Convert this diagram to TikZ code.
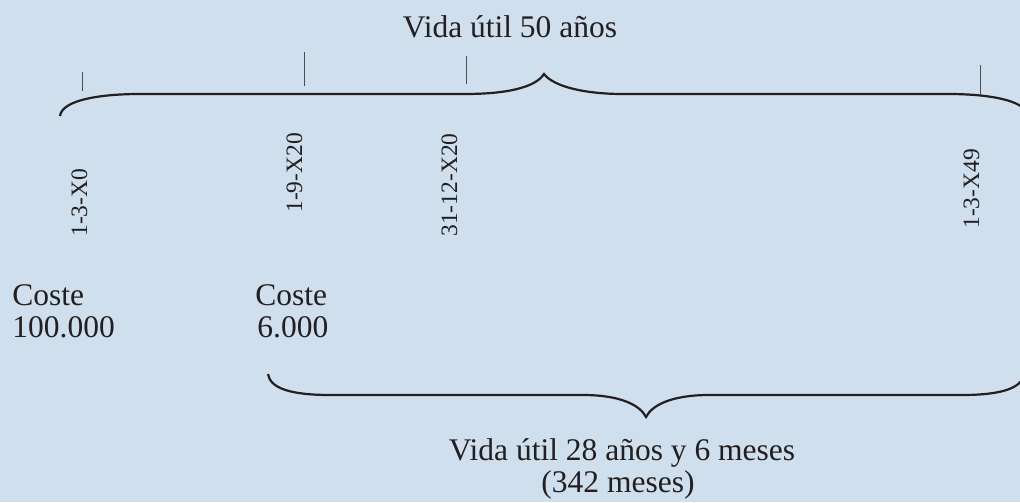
\documentclass[tikz,border=0pt]{standalone}
\usepackage{fontspec}
\setmainfont{Liberation Serif}
\definecolor{fondo}{HTML}{CFDFED}
\definecolor{tinta}{HTML}{231F20}
\tikzset{
  llave/.style={line width=1.1pt, draw=tinta},
  marca/.style={line width=.5pt, draw=tinta!80},
  fecha/.style={rotate=90, anchor=base west, inner sep=0pt, text=tinta,
    font=\fontsize{11.75}{12}\selectfont},
  texto/.style={inner sep=0pt, text=tinta, font=\fontsize{15.75}{16}\selectfont},
}
\begin{document}
\begin{tikzpicture}[x=.5pt,y=-.5pt]
  \fill[fondo] (0,0) rectangle (1020,502);
  \useasboundingbox (0,0) rectangle (1020,502);

  \node[texto, anchor=base] (vida50) at (510,38) {Vida útil 50 años};

  % marcas y fechas
  \foreach \x/\a/\b in {82/72/91, 304/52/86, 466/56/84, 980/65/96}
    \draw[marca] (\x,\a) -- (\x,\b);
  \foreach \x/\y/\f/\n in {87/237/1-3-X0/f0, 302/213/1-9-X20/f1,
                           457/237/31-12-X20/f2, 979/229/1-3-X49/f3}
    \node[fecha] (\n) at (\x,\y) {\f};

  \draw[llave] (60,116) .. controls (62,100) and (100,94) .. (140,94)
    -- (465,94) .. controls (505,94) and (535,88) .. (544,74)
    .. controls (553,86) and (583,94) .. (623,94)
    -- (948,94) .. controls (988,94) and (1026,100) .. (1028,116);

  \node[texto, anchor=base west] (coste0) at (12,305) {Coste};
  \node[texto, anchor=base west] (valor0) at (12,337) {100.000};
  \node[texto, anchor=base west] (coste1) at (255,305) {Coste};
  \node[texto, anchor=base west] (valor1) at (257,337) {6.000};

  \draw[llave] (268,374) .. controls (270,388) and (290,395) .. (330,395)
    -- (583,395) .. controls (620,395) and (640,405) .. (646,417)
    .. controls (652,405) and (672,395) .. (709,395)
    -- (962,395) .. controls (1002,395) and (1022,388) .. (1024,374);

  \node[texto, anchor=base] (vida28) at (622,460) {Vida útil 28 años y 6 meses};
  \node[texto, anchor=base] (meses) at (618,492) {(342 meses)};
\end{tikzpicture}
\end{document}
